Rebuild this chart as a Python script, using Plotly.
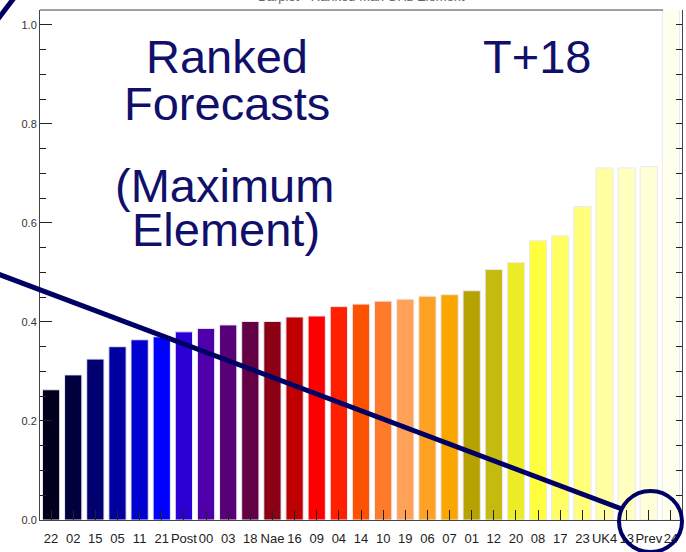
import plotly.graph_objects as go

categories = ["22", "02", "15", "05", "11", "21", "Post", "00", "03", "18", "Nae", "16",
              "09", "04", "14", "10", "19", "06", "07", "01", "12", "20", "08", "17",
              "23", "UK4", "13", "Prev", "24"]
values = [0.263, 0.293, 0.325, 0.350, 0.364, 0.370, 0.380, 0.387, 0.394, 0.401, 0.401, 0.410,
          0.412, 0.431, 0.436, 0.442, 0.446, 0.452, 0.455, 0.463, 0.506, 0.520, 0.564, 0.574,
          0.633, 0.711, 0.711, 0.714, 1.05]
colors = ["rgb(0,0,28)", "rgb(0,0,62)", "rgb(0,0,112)", "rgb(0,0,160)", "rgb(0,0,208)",
          "rgb(0,0,255)", "rgb(42,0,212)", "rgb(80,0,170)", "rgb(88,0,120)", "rgb(100,0,70)",
          "rgb(140,0,22)", "rgb(190,0,0)", "rgb(255,0,0)", "rgb(255,32,0)", "rgb(255,82,0)",
          "rgb(255,122,42)", "rgb(255,162,88)", "rgb(255,162,36)", "rgb(250,166,0)",
          "rgb(182,162,0)", "rgb(196,186,16)", "rgb(236,236,40)", "rgb(255,255,64)",
          "rgb(255,255,100)", "rgb(255,255,122)", "rgb(255,255,160)", "rgb(255,255,190)",
          "rgb(255,255,215)", "rgb(255,255,238)"]
y_ticks = [0.0, 0.2, 0.4, 0.6, 0.8, 1.0]

W, H = 686, 552
L, R, T, B = 40, 4, 10, 32
pw, ph = W - L - R, H - T - B


def px(x):
    return (x - L) / pw


def py(y):
    return (H - B - y) / ph


NAVY_TXT = "#10106a"
NAVY = "#000064"

fig = go.Figure()
fig.add_trace(go.Bar(
    x=categories, y=values,
    marker=dict(color=colors, line=dict(color="#ece8f4", width=1)),
    width=0.78, hoverinfo="skip",
))
fig.add_trace(go.Scatter(x=[None], y=[None], yaxis="y2", showlegend=False))

fig.update_layout(
    width=W, height=H,
    margin=dict(l=L, r=R, t=T, b=B, autoexpand=False),
    paper_bgcolor="white", plot_bgcolor="white",
    showlegend=False,
    xaxis=dict(
        type="category", range=[-0.5, 28.5], tickangle=0, automargin=False,
        showline=True, linecolor="#444", linewidth=1,
        ticks="inside", ticklen=10, tickcolor="#222",
        tickfont=dict(family="Liberation Sans", size=13, color="#222"),
        ticklabelstandoff=6, showgrid=False, zeroline=False,
    ),
    yaxis=dict(
        range=[0, 1.03], tickvals=y_ticks, ticktext=["0.0", "0.2", "0.4", "0.6", "0.8", "1.0"],
        automargin=False,
        showline=True, linecolor="#444", linewidth=1,
        ticks="inside", ticklen=12, tickcolor="#222",
        minor=dict(dtick=0.05, ticks="inside", ticklen=6, tickcolor="#222", showgrid=False),
        tickfont=dict(family="Liberation Sans", size=11, color="#333"),
        showgrid=False, zeroline=False,
    ),
    yaxis2=dict(
        range=[0, 1.03], overlaying="y", side="right", dtick=0.05, automargin=False,
        showline=True, linecolor="#444", linewidth=1,
        ticks="inside", ticklen=6, tickcolor="#222",
        showticklabels=False, showgrid=False, zeroline=False,
    ),
)

# top axis line stopping at the last (clipped) bar
fig.add_shape(type="line", xref="paper", yref="paper", x0=0, x1=px(663), y0=1, y1=1,
              line=dict(color="#444", width=1), layer="above")

# annotation marks
fig.add_shape(type="line", xref="paper", yref="paper",
              x0=px(-2), y0=py(274), x1=px(622), y1=py(509),
              line=dict(color=NAVY, width=5), layer="above")
fig.add_shape(type="line", xref="paper", yref="paper",
              x0=px(-2), y0=py(19), x1=px(14), y1=py(-2),
              line=dict(color=NAVY, width=5), layer="above")
fig.add_shape(type="circle", xref="paper", yref="paper",
              x0=px(619), x1=px(682), y0=py(491), y1=py(552),
              line=dict(color=NAVY, width=4), layer="above")

texts = [("Ranked", 227, 56), ("Forecasts", 227, 103), ("(Maximum", 225, 185),
         ("Element)", 226, 229), ("T+18", 537, 56)]
for t, x, y in texts:
    fig.add_annotation(text=t, xref="paper", yref="paper", x=px(x), y=py(y),
                       xanchor="center", yanchor="middle", showarrow=False,
                       font=dict(family="Liberation Sans", size=47, color=NAVY_TXT))

fig.add_annotation(text="Barplot - Ranked Max GHz Element", xref="paper", yref="paper",
                   x=px(362), y=py(-4), xanchor="center", yanchor="middle", showarrow=False,
                   font=dict(family="Liberation Sans", size=13, color="#666"))

fig.write_html("out.html", config={"displayModeBar": False},
               post_script="document.body.style.margin='0';")
